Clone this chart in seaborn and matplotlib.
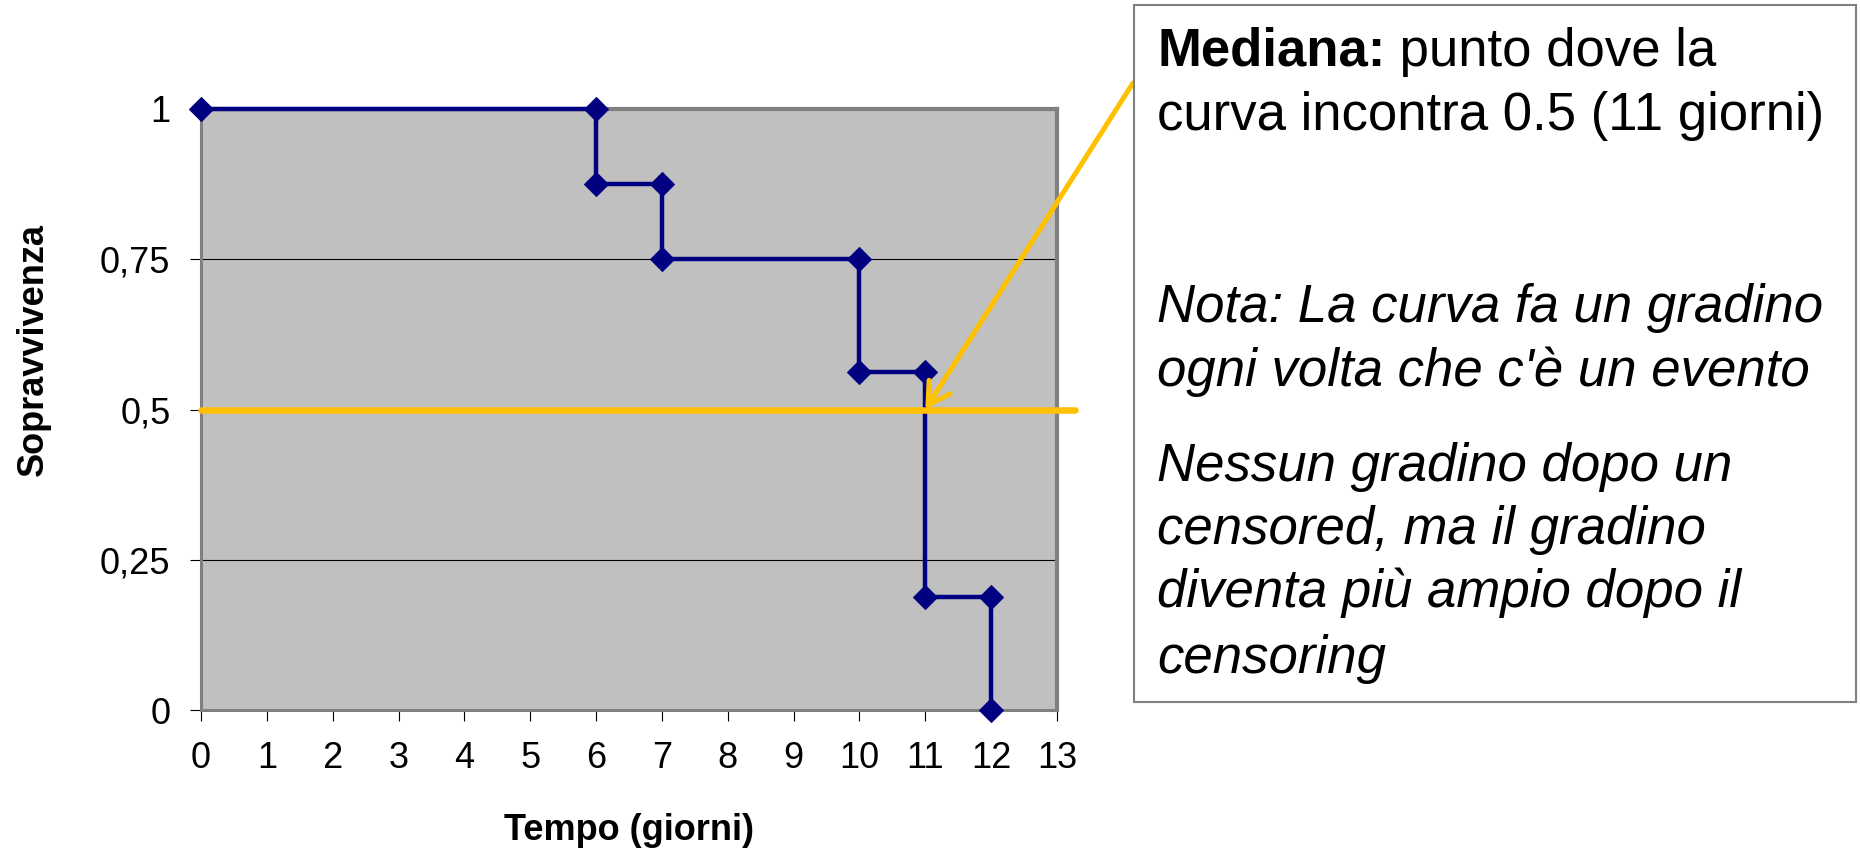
import matplotlib
matplotlib.use("Agg")
import matplotlib.pyplot as plt
import matplotlib.patches as mpatches
import seaborn as sns
import pandas as pd

# Kaplan-Meier step curve (each step drawn as two points)
tempo = [0, 6, 6, 7, 7, 10, 10, 11, 11, 12, 12]
sopravvivenza = [1, 1, 0.875, 0.875, 0.75, 0.75, 0.5625, 0.5625, 0.1875, 0.1875, 0]

mediana_y = 0.5
mediana_x = 11

x_ticks = list(range(0, 14))
y_ticks = [0, 0.25, 0.5, 0.75, 1]
y_tick_labels = ["0", "0,25", "0,5", "0,75", "1"]

testo_mediana_bold = "Mediana:"
testo_mediana = [" punto dove la", "curva incontra 0.5 (11 giorni)"]
testo_note = [
    "Nota: La curva fa un gradino",
    "ogni volta che c'è un evento",
    "Nessun gradino dopo un",
    "censored, ma il gradino",
    "diventa più ampio dopo il",
    "censoring",
]

sns.set_theme(style="white")
plt.rcParams["font.family"] = ["Liberation Sans", "DejaVu Sans"]
plt.rcParams["text.color"] = "black"
plt.rcParams["axes.labelcolor"] = "black"

W, H = 1860, 851
fig = plt.figure(figsize=(W / 100, H / 100), dpi=100)
ax = fig.add_axes([201 / W, 1 - 710 / H, 856 / W, 601 / H])

df = pd.DataFrame({"Tempo": tempo, "Sopravvivenza": sopravvivenza})
sns.lineplot(data=df, x="Tempo", y="Sopravvivenza", sort=False, estimator=None,
             color="#000080", linewidth=3.2, marker="D", markersize=12.5,
             markeredgecolor="#000080", ax=ax, zorder=3)
for ln in ax.lines:
    ln.set_clip_on(False)

ax.set_facecolor("#C0C0C0")
ax.set_xlim(0, 13)
ax.set_ylim(0, 1)
ax.set_xticks(x_ticks)
ax.set_xticklabels([str(t) for t in x_ticks])
ax.set_yticks(y_ticks)
ax.set_yticklabels(y_tick_labels)
ax.grid(False)
for yv in y_ticks[1:-1]:
    ax.axhline(yv, color="black", linewidth=0.8, zorder=1)
ax.set_axisbelow(True)

for side in ["top", "right"]:
    ax.spines[side].set_color("#808080")
    ax.spines[side].set_linewidth(3)
for side in ["left", "bottom"]:
    ax.spines[side].set_color("#808080")
    ax.spines[side].set_linewidth(2.2)

ax.tick_params(axis="both", which="both", direction="out", length=8, width=0.8,
               color="black", labelsize=26, labelcolor="black", left=True, bottom=True)
ax.tick_params(axis="x", pad=14)
ax.tick_params(axis="y", pad=14)

ax.set_xlabel("Tempo (giorni)", fontsize=26, fontweight="bold", va="center")
ax.xaxis.set_label_coords(0.5, -0.2)
ax.set_ylabel("Sopravvivenza", fontsize=26, fontweight="bold", va="center")
ax.yaxis.set_label_coords(-0.196, 0.6)

# median reference line and arrow
ax.axhline(mediana_y, xmin=0, xmax=1.021, color="#FFC000", linewidth=4.7,
           clip_on=False, zorder=4)
ax.annotate("", xy=(mediana_x, mediana_y), xycoords="data",
            xytext=(1133, H - 83), textcoords="figure pixels",
            arrowprops=dict(arrowstyle="->,head_length=0.78,head_width=0.45",
                            color="#FFC000", lw=3.6, shrinkA=0, shrinkB=0,
                            mutation_scale=20),
            zorder=5, annotation_clip=False)

# text box
box = mpatches.Rectangle((1134 / W, 1 - 702 / H), (1856 - 1134) / W, (702 - 5) / H,
                         transform=fig.transFigure, facecolor="white",
                         edgecolor="#808080", linewidth=1.5, zorder=0)
fig.patches.append(box)

x0 = 1157 / W
fs = 38
t_bold = fig.text(x0, 1 - 66 / H, testo_mediana_bold, fontsize=fs, fontweight="bold",
                  va="baseline", ha="left")
renderer = fig.canvas.get_renderer()
bb = t_bold.get_window_extent(renderer=renderer)
fig.text(bb.x1 / W, 1 - 66 / H, testo_mediana[0], fontsize=fs, va="baseline", ha="left")
fig.text(x0, 1 - 130 / H, testo_mediana[1], fontsize=fs, va="baseline", ha="left")

baselines = [322, 385.5, 481, 544, 607.5, 673]
for line, yb in zip(testo_note, baselines):
    fig.text(x0, 1 - yb / H, line, fontsize=fs, fontstyle="italic",
             va="baseline", ha="left")

fig.savefig("out.png", dpi=100)
